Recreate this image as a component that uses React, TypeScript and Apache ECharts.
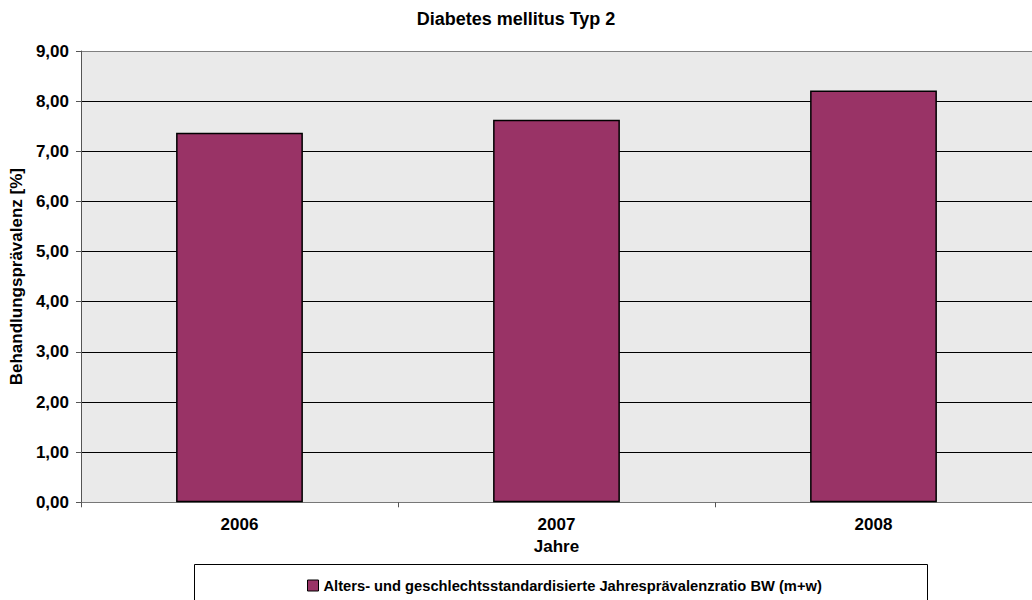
import React, { useEffect, useRef } from "react";
import * as echarts from "echarts";

const titleText = "Diabetes mellitus Typ 2";
const categories = ["2006", "2007", "2008"];
const seriesName = "Alters- und geschlechtsstandardisierte Jahresprävalenzratio BW (m+w)";
const values = [7.37, 7.63, 8.21];
const yAxisName = "Behandlungsprävalenz [%]";
const xAxisName = "Jahre";

const FONT = "'Liberation Sans', Arial, sans-serif";

export default function App() {
  const ref = useRef<HTMLDivElement>(null);
  useEffect(() => {
    if (!ref.current) return;
    const chart = echarts.init(ref.current, null, { renderer: "svg" });
    const gridColors = ["#808080", "#000", "#000", "#000", "#000", "#000", "#000", "#000", "#000", "#808080"];
    chart.setOption({
      animation: false,
      backgroundColor: "#ffffff",
      textStyle: { fontFamily: FONT },
      title: {
        text: titleText,
        left: "center",
        top: 5,
        textStyle: { fontFamily: FONT, fontSize: 18, fontWeight: "bold", color: "#000" },
      },
      grid: { left: 80.5, top: 51, width: 958.5, height: 451.3, backgroundColor: "#eaeaea", show: true, borderWidth: 0 },
      graphic: [
        {
          type: "rect",
          shape: { x: 194.5, y: 564.5, width: 733, height: 60 },
          style: { fill: "#ffffff", stroke: "#000", lineWidth: 1 },
          z: -1,
        },
      ],
      legend: {
        left: 307,
        top: 578,
        padding: 0,
        itemWidth: 11,
        itemHeight: 11,
        itemGap: 4,
        icon: "rect",
        data: [seriesName],
        textStyle: { fontFamily: FONT, fontSize: 14.7, fontWeight: "bold", color: "#000" },
        itemStyle: { borderColor: "#000", borderWidth: 1 },
      },
      xAxis: {
        type: "category",
        data: categories,
        name: xAxisName,
        nameLocation: "middle",
        nameGap: 36,
        nameTextStyle: { fontFamily: FONT, fontSize: 17, fontWeight: "bold", color: "#000" },
        axisLine: { lineStyle: { color: "#777", width: 1 } },
        axisTick: { show: true, length: 5, lineStyle: { color: "#555" }, alignWithLabel: false },
        axisLabel: { margin: 14, fontFamily: FONT, fontSize: 17, fontWeight: "bold", color: "#000" },
      },
      yAxis: {
        type: "value",
        min: 0,
        max: 9,
        interval: 1,
        name: yAxisName,
        nameLocation: "middle",
        nameGap: 53,
        nameTextStyle: { fontFamily: FONT, fontSize: 17, fontWeight: "bold", color: "#000" },
        axisLine: { show: true, lineStyle: { color: "#555", width: 1 } },
        axisTick: { show: true, length: 5, lineStyle: { color: "#555" } },
        axisLabel: {
          margin: 12,
          fontFamily: FONT,
          fontSize: 17,
          fontWeight: "bold",
          color: "#000",
          formatter: (v: number) => v.toFixed(2).replace(".", ","),
        },
        splitLine: { show: true, lineStyle: { color: gridColors, width: 1 } },
      },
      series: [
        {
          name: seriesName,
          type: "bar",
          data: values,
          barWidth: "40%",
          itemStyle: { color: "#993366", borderColor: "#000", borderWidth: 1.5 },
        },
      ],
    });
    return () => chart.dispose();
  }, []);
  return <div ref={ref} style={{ position: "fixed", left: 0, top: 0, width: 1032, height: 600 }} />;
}
